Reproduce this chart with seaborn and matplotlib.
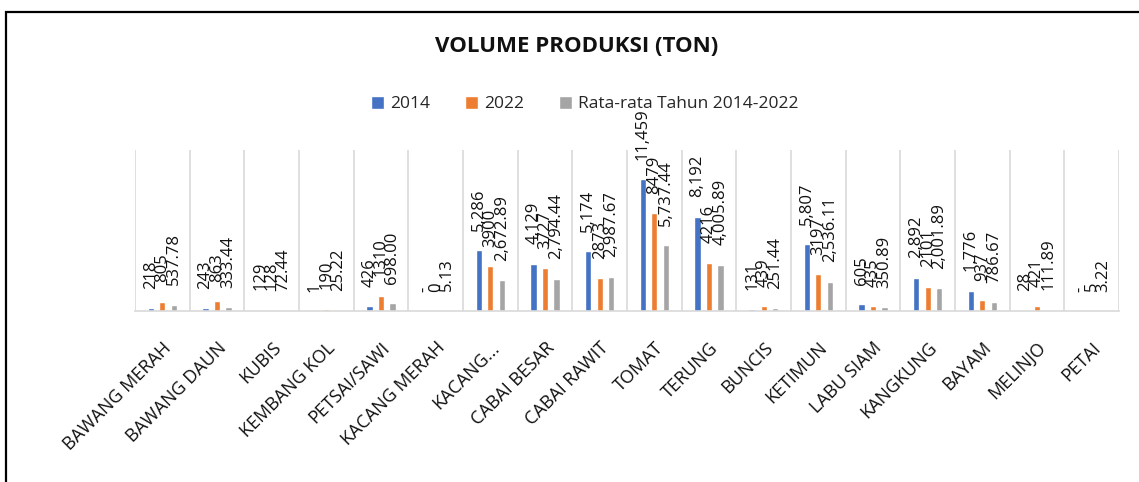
import matplotlib
matplotlib.use("Agg")
import matplotlib.pyplot as plt
import seaborn as sns
import pandas as pd
import numpy as np
from matplotlib.patches import Rectangle

categories = ["BAWANG MERAH", "BAWANG DAUN", "KUBIS", "KEMBANG KOL", "PETSAI/SAWI",
              "KACANG MERAH", "KACANG...", "CABAI BESAR", "CABAI RAWIT", "TOMAT",
              "TERUNG", "BUNCIS", "KETIMUN", "LABU SIAM", "KANGKUNG", "BAYAM",
              "MELINJO", "PETAI"]
v2014 = [218, 243, 129, 1, 426, None, 5286, 4129, 5174, 11459, 8192, 131, 5807, 605, 2892, 1776, 28, None]
v2022 = [805, 863, 128, 190, 1310, 0, 3900, 3727, 2873, 8479, 4216, 439, 3197, 435, 2101, 937, 421, 5]
vavg = [537.78, 333.44, 72.44, 25.22, 698.00, 5.13, 2672.89, 2794.44, 2987.67, 5737.44,
        4005.89, 251.44, 2536.11, 350.89, 2001.89, 786.67, 111.89, 3.22]
series = ["2014", "2022", "Rata-rata Tahun 2014-2022"]
colors = ["#4472C4", "#ED7D31", "#A5A5A5"]

sns.set_theme(style="white")
plt.rcParams['font.family'] = ['Open Sans', 'DejaVu Sans']

rows = []
for s, vals in zip(series, [v2014, v2022, vavg]):
    for c, v in zip(categories, vals):
        rows.append({"cat": c, "series": s, "val": 0 if v is None else v})
df = pd.DataFrame(rows)

fig = plt.figure(figsize=(11.39, 4.82), dpi=100)
ax = fig.add_axes([135/1139, (482-311)/482, (1119-135)/1139, (311-150)/482])

sns.barplot(data=df, x="cat", y="val", hue="series", order=categories, hue_order=series,
            palette=colors, width=0.63, gap=0.45, ax=ax, saturation=1, errorbar=None)

def fmt(vals, kind):
    out = []
    for v in vals:
        if v is None:
            out.append("-")
        elif kind == "comma":
            out.append(f"{v:,}")
        elif kind == "plain":
            out.append(f"{v}")
        else:
            out.append(f"{v:,.2f}")
    return out

label_sets = [fmt(v2014, "comma"), fmt(v2022, "plain"), fmt(vavg, "avg")]
for cont, labs in zip(ax.containers, label_sets):
    ax.bar_label(cont, labels=labs, padding=14, rotation=90, fontsize=12, color="#111111")

ax.set_ylim(0, 14000)
ax.set_xlim(-0.5, len(categories) - 0.5)
ax.set_xticks(np.arange(-0.5, len(categories), 1.0), minor=True)
ax.grid(True, which="minor", axis="x", color="#D9D9D9", linewidth=1.2)
ax.grid(False, which="major")
ax.set_yticks([])
ax.set_xlabel("")
ax.set_ylabel("")
for side in ["top", "left", "right"]:
    ax.spines[side].set_visible(False)
ax.spines["bottom"].set_color("#D9D9D9")
ax.spines["bottom"].set_linewidth(1.2)
ax.tick_params(axis="x", which="both", length=0, pad=20)
ax.set_xticks(range(len(categories)))
ax.set_xticklabels(categories, rotation=45, ha="right", va="top", rotation_mode="anchor",
                   fontsize=13, color="#111111")

handles, labels = ax.get_legend_handles_labels()
ax.get_legend().remove()
fig.legend(handles, labels, loc="center", bbox_to_anchor=(585/1139, (482-104)/482), ncol=3,
           frameon=False, fontsize=12.5, handlelength=0.75, handleheight=0.75,
           handletextpad=0.35, columnspacing=2.0)

fig.text(577/1139, (482-47)/482, "VOLUME PRODUKSI (TON)", ha="center", va="center",
         fontsize=16, fontweight="bold", color="#111111")

fig.patches.append(Rectangle((6/1139, -0.2), 2.0, (482-12)/482 + 0.2, transform=fig.transFigure,
                             fill=False, edgecolor="black", linewidth=1.6))

fig.savefig("out.png", dpi=100)
